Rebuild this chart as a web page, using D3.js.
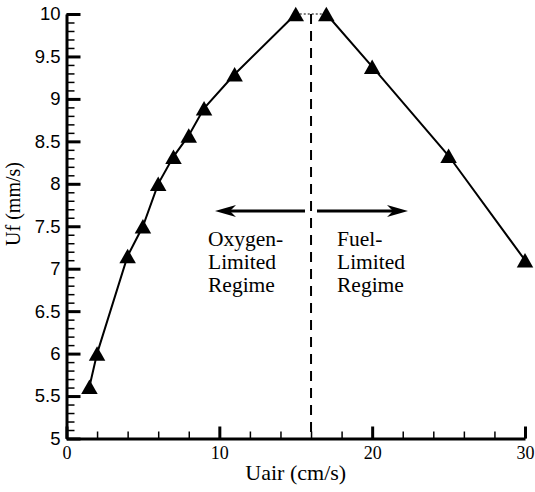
<!DOCTYPE html>
<html>
<head>
<meta charset="utf-8">
<script src="https://cdn.jsdelivr.net/npm/d3@7"></script>
<style>
  html, body { margin: 0; padding: 0; background: #fff; }
  svg { display: block; }
  .serif { font-family: "Liberation Serif", "Times New Roman", serif; }
  .sans { font-family: "Liberation Sans", Arial, sans-serif; }
</style>
</head>
<body>
<div id="chart"></div>
<script>
// airflow velocity (cm/s) and flame spread rate (mm/s)
const uair = [1.5, 2, 4, 5, 6, 7, 8, 9, 11, 15, 17, 20, 25, 30];
const uf   = [5.61, 6.0, 7.15, 7.5, 8.0, 8.32, 8.57, 8.89, 9.29, 10.0, 10.0, 9.38, 8.33, 7.1];
const xMajor = [0, 10, 20, 30];
const yMajor = [5, 5.5, 6, 6.5, 7, 7.5, 8, 8.5, 9, 9.5, 10];
const xMinor = d3.range(0, 30.01, 2);
const yMinor = d3.range(50, 101, 1).map(v => v / 10);
const boundary = 16; // dashed line between the two regimes
const leftLabel = ['Oxygen-', 'Limited', 'Regime'];
const rightLabel = ['Fuel-', 'Limited', 'Regime'];

const W = 535, H = 492;
const svg = d3.select('#chart').append('svg').attr('width', W).attr('height', H);

const x = d3.scaleLinear().domain([0, 30]).range([66.5, 525]);
const y = d3.scaleLinear().domain([5, 10]).range([438.5, 14]);

const pts = uair.map((v, i) => ({ x: v, y: uf[i] }));

// y axis: minor then major ticks, pointing inward
svg.append('g').attr('transform', `translate(${x(0)},0)`)
    .call(d3.axisLeft(y).tickValues(yMinor).tickSize(-8).tickSizeOuter(0).tickFormat(''))
    .call(g => g.select('.domain').remove())
    .call(g => g.selectAll('line').attr('stroke', '#000').attr('stroke-width', 1.5));
svg.append('g').attr('transform', `translate(${x(0)},0)`)
    .call(d3.axisLeft(y).tickValues(yMajor).tickSize(-14).tickSizeOuter(0).tickPadding(6).tickFormat(d3.format('')))
    .call(g => g.select('.domain').attr('stroke', '#000').attr('stroke-width', 3))
    .call(g => g.selectAll('line').attr('stroke', '#000').attr('stroke-width', 3))
    .call(g => g.selectAll('text').attr('class', 'sans').attr('font-size', 18.5).attr('fill', '#000'));

// x axis
svg.append('g').attr('transform', `translate(0,${y(5)})`)
    .call(d3.axisBottom(x).tickValues(xMinor).tickSize(-7).tickSizeOuter(0).tickFormat(''))
    .call(g => g.select('.domain').remove())
    .call(g => g.selectAll('line').attr('stroke', '#000').attr('stroke-width', 1.5));
svg.append('g').attr('transform', `translate(0,${y(5)})`)
    .call(d3.axisBottom(x).tickValues(xMajor).tickSize(-12).tickSizeOuter(0).tickPadding(8).tickFormat(d3.format('d')))
    .call(g => g.select('.domain').attr('stroke', '#000').attr('stroke-width', 3))
    .call(g => g.selectAll('line').attr('stroke', '#000').attr('stroke-width', 3))
    .call(g => g.selectAll('text').attr('class', 'serif').attr('font-size', 18).attr('fill', '#000'));

// axis titles
svg.append('text').attr('class', 'serif')
    .attr('x', (x(0) + x(30)) / 2).attr('y', 480)
    .attr('text-anchor', 'middle').attr('font-size', 22)
    .text('Uair (cm/s)');
svg.append('text').attr('class', 'serif')
    .attr('transform', 'translate(20,204) rotate(-90)')
    .attr('text-anchor', 'middle').attr('font-size', 20)
    .text('Uf (mm/s)');

// regime boundary
svg.append('line')
    .attr('x1', x(boundary)).attr('x2', x(boundary))
    .attr('y1', y(10)).attr('y2', y(5))
    .attr('stroke', '#000').attr('stroke-width', 2)
    .attr('stroke-dasharray', '10,7');

// data line: solid on each side, dotted across the peak
const line = d3.line().x(d => x(d.x)).y(d => y(d.y));
const left = pts.filter(d => d.x <= 15);
const right = pts.filter(d => d.x >= 17);
const gap = [left[left.length - 1], right[0]];
svg.append('path').datum(left).attr('d', line)
    .attr('fill', 'none').attr('stroke', '#000').attr('stroke-width', 2);
svg.append('path').datum(right).attr('d', line)
    .attr('fill', 'none').attr('stroke', '#000').attr('stroke-width', 2);
svg.append('path').datum(gap).attr('d', line)
    .attr('fill', 'none').attr('stroke', '#000').attr('stroke-width', 1.2)
    .attr('stroke-dasharray', '2,2');

// triangle markers
const tw = 16.5, th = 14.5;
svg.append('g').selectAll('path').data(pts).enter().append('path')
    .attr('d', `M0,${-th / 2}L${tw / 2},${th / 2}L${-tw / 2},${th / 2}Z`)
    .attr('transform', d => `translate(${x(d.x)},${y(d.y)})`)
    .attr('fill', '#000');

// arrows
function arrow(x1, x2, yy) {
    const dir = Math.sign(x2 - x1);
    svg.append('line').attr('x1', x1).attr('x2', x2 - dir * 10).attr('y1', yy).attr('y2', yy)
        .attr('stroke', '#000').attr('stroke-width', 2.8);
    svg.append('path')
        .attr('d', `M${x2},${yy}L${x2 - dir * 21},${yy - 6}L${x2 - dir * 15},${yy}L${x2 - dir * 21},${yy + 6}Z`)
        .attr('fill', '#000');
}
arrow(305, 215, 211);
arrow(317, 408, 211);

// regime labels
function label(lines, x0) {
    svg.append('g').selectAll('text').data(lines).enter().append('text')
        .attr('class', 'serif').attr('font-size', 21.5)
        .attr('x', x0).attr('y', (d, i) => 246 + i * 23)
        .text(d => d);
}
label(leftLabel, 208);
label(rightLabel, 337);
</script>
</body>
</html>
